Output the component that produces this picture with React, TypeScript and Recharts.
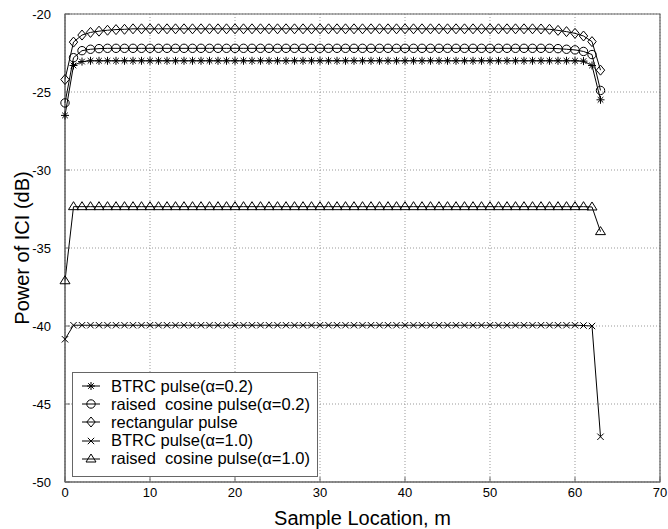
import { LineChart, Line, XAxis, YAxis, CartesianGrid, ReferenceArea } from 'recharts'

// ICI power per sample location m (dB)
const BTRC_02 = [
  -26.5, -23.3, -23.05, -23.0, -23.0, -23.0, -23.0, -23.0,
  -23.0, -23.0, -23.0, -23.0, -23.0, -23.0, -23.0, -23.0,
  -23.0, -23.0, -23.0, -23.0, -23.0, -23.0, -23.0, -23.0,
  -23.0, -23.0, -23.0, -23.0, -23.0, -23.0, -23.0, -23.0,
  -23.0, -23.0, -23.0, -23.0, -23.0, -23.0, -23.0, -23.0,
  -23.0, -23.0, -23.0, -23.0, -23.0, -23.0, -23.0, -23.0,
  -23.0, -23.0, -23.0, -23.0, -23.0, -23.0, -23.0, -23.0,
  -23.0, -23.0, -23.0, -23.0, -23.0, -23.02, -23.3, -25.5,
]

const RC_02 = [
  -25.7, -22.8, -22.35, -22.26, -22.22, -22.2, -22.2, -22.2,
  -22.2, -22.2, -22.2, -22.2, -22.2, -22.2, -22.2, -22.2,
  -22.2, -22.2, -22.2, -22.2, -22.2, -22.2, -22.2, -22.2,
  -22.2, -22.2, -22.2, -22.2, -22.2, -22.2, -22.2, -22.2,
  -22.2, -22.2, -22.2, -22.2, -22.2, -22.2, -22.2, -22.2,
  -22.2, -22.2, -22.2, -22.2, -22.2, -22.2, -22.2, -22.2,
  -22.2, -22.2, -22.2, -22.2, -22.2, -22.2, -22.2, -22.2,
  -22.2, -22.2, -22.22, -22.26, -22.3, -22.4, -22.6, -24.9,
]

const RECT = [
  -24.2, -21.8, -21.35, -21.18, -21.1, -21.04, -21.0, -20.98,
  -20.95, -20.95, -20.95, -20.95, -20.95, -20.95, -20.95, -20.95,
  -20.95, -20.95, -20.95, -20.95, -20.95, -20.95, -20.95, -20.95,
  -20.95, -20.95, -20.95, -20.95, -20.95, -20.95, -20.95, -20.95,
  -20.95, -20.95, -20.95, -20.95, -20.95, -20.95, -20.95, -20.95,
  -20.95, -20.95, -20.95, -20.95, -20.95, -20.95, -20.95, -20.95,
  -20.95, -20.95, -20.95, -20.95, -20.95, -20.95, -20.95, -20.95,
  -20.96, -20.98, -21.05, -21.13, -21.24, -21.41, -21.77, -23.6,
]

const BTRC_10 = [
  -40.85, -39.95, -39.95, -39.95, -39.95, -39.95, -39.95, -39.95,
  -39.95, -39.95, -39.95, -39.95, -39.95, -39.95, -39.95, -39.95,
  -39.95, -39.95, -39.95, -39.95, -39.95, -39.95, -39.95, -39.95,
  -39.95, -39.95, -39.95, -39.95, -39.95, -39.95, -39.95, -39.95,
  -39.95, -39.95, -39.95, -39.95, -39.95, -39.95, -39.95, -39.95,
  -39.95, -39.95, -39.95, -39.95, -39.95, -39.95, -39.95, -39.95,
  -39.95, -39.95, -39.95, -39.95, -39.95, -39.95, -39.95, -39.95,
  -39.95, -39.95, -39.95, -39.95, -39.95, -39.97, -40.0, -47.1,
]

const RC_10 = [
  -37.1, -32.35, -32.35, -32.35, -32.35, -32.35, -32.35, -32.35,
  -32.35, -32.35, -32.35, -32.35, -32.35, -32.35, -32.35, -32.35,
  -32.35, -32.35, -32.35, -32.35, -32.35, -32.35, -32.35, -32.35,
  -32.35, -32.35, -32.35, -32.35, -32.35, -32.35, -32.35, -32.35,
  -32.35, -32.35, -32.35, -32.35, -32.35, -32.35, -32.35, -32.35,
  -32.35, -32.35, -32.35, -32.35, -32.35, -32.35, -32.35, -32.35,
  -32.35, -32.35, -32.35, -32.35, -32.35, -32.35, -32.35, -32.35,
  -32.35, -32.35, -32.35, -32.35, -32.35, -32.35, -32.37, -33.95,
]

const X_TICKS = [0, 10, 20, 30, 40, 50, 60, 70]
const Y_TICKS = [-50, -45, -40, -35, -30, -25, -20]

const SERIES = [
  { key: 'btrc02', name: 'BTRC pulse(\u03b1=0.2)', marker: 'star' },
  { key: 'rc02', name: 'raised  cosine pulse(\u03b1=0.2)', marker: 'circle' },
  { key: 'rect', name: 'rectangular pulse', marker: 'diamond' },
  { key: 'btrc10', name: 'BTRC pulse(\u03b1=1.0)', marker: 'x' },
  { key: 'rc10', name: 'raised  cosine pulse(\u03b1=1.0)', marker: 'triangle' },
]

const data = BTRC_02.map((v, m) => ({
  m,
  btrc02: v,
  rc02: RC_02[m],
  rect: RECT[m],
  btrc10: BTRC_10[m],
  rc10: RC_10[m],
}))

const FONT = '"Liberation Sans", Arial, Helvetica, sans-serif'
const FRAME = '#666'

function Marker({ cx, cy, kind }: { cx: number; cy: number; kind: string }) {
  const common = { stroke: '#000', strokeWidth: 1, fill: 'none' }
  if (kind === 'star') {
    const r = 4
    const d = r * 0.7
    return (
      <path
        {...common}
        d={`M${cx - r},${cy}H${cx + r}M${cx},${cy - r}V${cy + r}M${cx - d},${cy - d}L${cx + d},${cy + d}M${cx - d},${cy + d}L${cx + d},${cy - d}`}
      />
    )
  }
  if (kind === 'circle') return <circle {...common} cx={cx} cy={cy} r={4.2} />
  if (kind === 'diamond') {
    const w = 4.2
    const h = 5
    return <path {...common} d={`M${cx},${cy - h}L${cx + w},${cy}L${cx},${cy + h}L${cx - w},${cy}Z`} />
  }
  if (kind === 'x') {
    const d = 3.2
    return <path {...common} d={`M${cx - d},${cy - d}L${cx + d},${cy + d}M${cx - d},${cy + d}L${cx + d},${cy - d}`} />
  }
  // triangle
  return <path {...common} d={`M${cx},${cy - 5}L${cx + 5},${cy + 3}L${cx - 5},${cy + 3}Z`} />
}

// legend box laid over the lower-left part of the plot, as in the original figure
function LegendBox() {
  return (
    <div
      style={{
        position: 'absolute',
        left: 72,
        top: 372,
        width: 244,
        height: 99,
        border: `1px solid ${FRAME}`,
        background: '#fff',
        fontFamily: FONT,
        fontSize: 16.5,
        color: '#000',
        paddingTop: 4,
        boxSizing: 'content-box',
      }}
    >
      {SERIES.map((s) => (
        <div key={s.key} style={{ display: 'flex', alignItems: 'center', height: 18.2 }}>
          <svg width={38} height={18} style={{ flex: 'none' }}>
            <line x1={9} x2={27} y1={9} y2={9} stroke="#000" strokeWidth={1} />
            <Marker cx={18} cy={9} kind={s.marker} />
          </svg>
          <span style={{ whiteSpace: 'pre' }}>{s.name}</span>
        </div>
      ))}
    </div>
  )
}

export default function App() {
  return (
    <div style={{ position: 'absolute', left: 0, top: 0, width: 668, height: 529, background: '#fff' }}>
      <LineChart width={668} height={529} data={data} margin={{ top: 14, right: 8, bottom: 0, left: 0 }}>
        <CartesianGrid stroke="#999" strokeDasharray="1 2" />
        <XAxis
          dataKey="m"
          type="number"
          domain={[0, 70]}
          ticks={X_TICKS}
          height={47}
          stroke={FRAME}
          tickSize={-5}
          tickMargin={11}
          tick={{ fill: '#000', fontSize: 13, fontFamily: FONT }}
          label={{
            value: 'Sample Location, m',
            position: 'insideBottom',
            offset: 4,
            style: { fontSize: 20, fontFamily: FONT, fill: '#000' },
          }}
        />
        <XAxis
          xAxisId="top"
          dataKey="m"
          orientation="top"
          mirror
          type="number"
          domain={[0, 70]}
          ticks={X_TICKS}
          height={0}
          stroke={FRAME}
          tickSize={5}
          tick={false}
        />
        <YAxis
          type="number"
          domain={[-50, -20]}
          ticks={Y_TICKS}
          width={65}
          stroke={FRAME}
          tickSize={-5}
          tickMargin={19}
          tick={{ fill: '#000', fontSize: 13, fontFamily: FONT }}
          label={{
            value: 'Power of ICI (dB)',
            angle: -90,
            position: 'insideLeft',
            offset: 22,
            style: { fontSize: 20, fontFamily: FONT, fill: '#000', textAnchor: 'middle' },
          }}
        />
        <YAxis
          yAxisId="right"
          orientation="right"
          mirror
          type="number"
          domain={[-50, -20]}
          ticks={Y_TICKS}
          width={0}
          stroke={FRAME}
          tickSize={5}
          tick={false}
        />
        {/* box around the plot area */}
        <ReferenceArea
          x1={0}
          x2={70}
          y1={-50}
          y2={-20}
          fill="none"
          fillOpacity={0}
          stroke={FRAME}
          strokeOpacity={1}
          strokeWidth={1.2}
          ifOverflow="visible"
        />
        {SERIES.map((s) => (
          <Line
            key={s.key}
            dataKey={s.key}
            name={s.name}
            type="linear"
            stroke="#000"
            strokeWidth={1}
            isAnimationActive={false}
            dot={(p: any) => <Marker key={`${s.key}-${p.index}`} cx={p.cx} cy={p.cy} kind={s.marker} />}
            activeDot={false}
          />
        ))}
        {/* invisible series tying the top/right axes to the data so they get drawn */}
        <Line
          dataKey="rect"
          xAxisId="top"
          yAxisId="right"
          stroke="none"
          dot={false}
          activeDot={false}
          legendType="none"
          isAnimationActive={false}
        />
      </LineChart>
      <LegendBox />
    </div>
  )
}
